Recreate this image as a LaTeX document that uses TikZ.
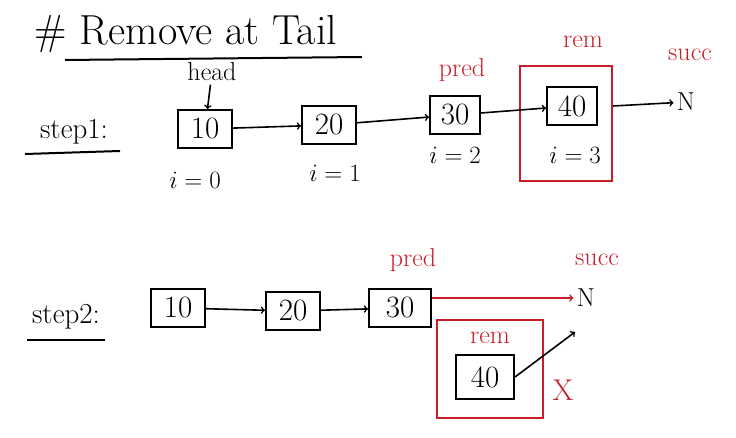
\documentclass[tikz,border=0pt]{standalone}
\usetikzlibrary{positioning}
\definecolor{penred}{RGB}{200,30,40}
\tikzset{
  cell/.style={draw, rectangle, line width=2pt, minimum width=54pt, minimum height=38pt, inner sep=1pt, font=\fontsize{31}{32}\selectfont},
  link/.style={->, line width=1.6pt},
  note/.style={font=\fontsize{26}{28}\selectfont},
  marker/.style={note, text=penred},
  frame/.style={draw=penred, line width=2pt, rectangle},
  index/.style={font=\fontsize{23}{25}\selectfont},
}
\begin{document}
\begin{tikzpicture}[x=1pt, y=-1pt]
                \useasboundingbox (0,0) rectangle (736,438);
                % title
                \node[font=\fontsize{42}{44}\selectfont] (title) at (186,34) {\# Remove at Tail};
                \draw[line width=2pt] (65,60) -- (362,57);
                % step 1
                \node[font=\fontsize{29}{31}\selectfont] (stepa) at (74,132) {step1:};
                \draw[line width=2pt] (25,154) -- (120,151);
                \node[cell] (a10) at (205,129) {10};
                \node[cell] (a20) at (329,125) {20};
                \node[cell, minimum width=50pt] (a30) at (455,115) {30};
                \node[frame, minimum width=92pt, minimum height=115pt] (arem) at (566,124) {};
                \node[cell, minimum width=50pt] (a40) at (572,106) {40};
                \node[font=\fontsize{26}{28}\selectfont] (anull) at (686,102) {N};
                \node[note] (head) at (212,72) {head};
                \node[marker] (apred) at (462,70) {pred};
                \node[marker] (arname) at (583,42) {rem};
                \node[marker] (asucc) at (690,55) {succ};
                \node[index] (ai0) at (195,180) {$i=0$};
                \node[index] (ai1) at (335,173) {$i=1$};
                \node[index] (ai2) at (455,155) {$i=2$};
                \node[index] (ai3) at (575,155) {$i=3$};
                \draw[link] (head) -- (a10);
                \draw[link] (a10) -- (a20);
                \draw[link] (a20) -- (a30);
                \draw[link] (a30) -- (a40);
                \draw[link] (a40.east -| arem.east) -- (anull);
                % step 2
                \node[font=\fontsize{29}{31}\selectfont] (stepb) at (66,317) {step2:};
                \draw[line width=2pt] (27,340) -- (105,340);
                \node[cell] (b10) at (178,308) {10};
                \node[cell] (b20) at (293,311) {20};
                \node[cell, minimum width=62pt] (b30) at (400,308) {30};
                \node[font=\fontsize{26}{28}\selectfont] (bnull) at (586,298) {N};
                \node[frame, minimum width=106pt, minimum height=98pt] (brem) at (490,369) {};
                \node[cell, minimum width=58pt, minimum height=44pt] (b40) at (485,377) {40};
                \node[marker] (brname) at (490,338) {rem};
                \node[marker] (bpred) at (413,260) {pred};
                \node[marker] (bsucc) at (597,260) {succ};
                \node[font=\fontsize{30}{32}\selectfont, text=penred] (bcut) at (563,390) {X};
                \coordinate (bold) at (575,332);
                \draw[link] (b10) -- (b20);
                \draw[link] (b20) -- (b30);
                \draw[link, penred] (b30.east |- bnull) -- (bnull);
                \draw[link] (b40.east) -- (bold);
            \end{tikzpicture}
\end{document}
